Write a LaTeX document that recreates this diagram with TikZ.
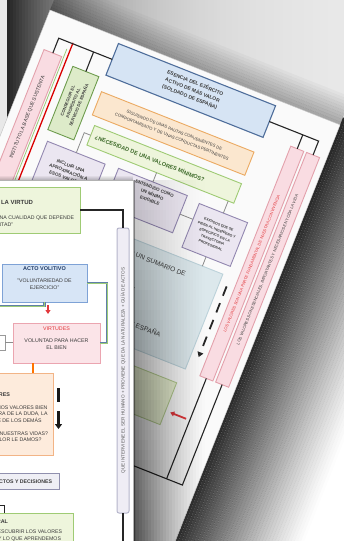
\documentclass[tikz,border=0pt]{standalone}
\usepackage{fontspec}
\setmainfont{Liberation Sans}
\usetikzlibrary{arrows.meta}
\definecolor{bluefill}{HTML}{D6E4F4}
\definecolor{blueline}{HTML}{4F6E9B}
\definecolor{orfill}{HTML}{FBE7CF}
\definecolor{orline}{HTML}{EBAA62}
\definecolor{grfill}{HTML}{EEF5DC}
\definecolor{grline}{HTML}{9FCB74}
\definecolor{grdark}{HTML}{3E6B2A}
\definecolor{gvfill}{HTML}{DDEBC9}
\definecolor{gvline}{HTML}{6E9C4E}
\definecolor{lavfill}{HTML}{EBE6F1}
\definecolor{lavline}{HTML}{9287B0}
\definecolor{pkfill}{HTML}{F9DCE2}
\definecolor{pkline}{HTML}{E3A1AC}
\definecolor{lbfill}{HTML}{DCE8EC}
\definecolor{lbline}{HTML}{BCD2DA}
\definecolor{lgfill}{HTML}{E9F1D2}
\definecolor{lgline}{HTML}{B6CD92}
\definecolor{txt}{HTML}{3A3A3A}
\definecolor{avfill}{HTML}{D7E5F6}
\definecolor{avline}{HTML}{7EA2D6}
\definecolor{avtxt}{HTML}{1F3A66}
\definecolor{vfill}{HTML}{FBE4E8}
\definecolor{vline}{HTML}{EBA5B0}
\definecolor{vred}{HTML}{E2383C}
\definecolor{valfill}{HTML}{FDEBDC}
\definecolor{valline}{HTML}{F2B486}
\definecolor{decfill}{HTML}{EFEFF5}
\definecolor{decline}{HTML}{9090AE}
\definecolor{stfill}{HTML}{EFEDF5}
\definecolor{stline}{HTML}{B5B5CB}
\definecolor{connblue}{HTML}{5F7FA8}
\definecolor{conng}{HTML}{9CCB78}
\newcommand\fz[2]{\fontsize{#1pt}{#2pt}\selectfont}
\begin{document}
\begin{tikzpicture}[x=1pt,y=-1pt,
  every node/.style={inner sep=0pt,outer sep=0pt},
  bx/.style={anchor=north west, line width=0.9pt},
  frame/.style={draw=black!85, line width=1.1pt},
  thinc/.style={draw=black!45, line width=0.8pt},
  btxt/.style={text=txt, align=center},
  conn/.style={draw=connblue, line width=0.7pt, double=conng, double distance=0.7pt},
  dasharr/.style={draw=black!85, line width=1.8pt, dash pattern=on 10pt off 8pt, -{Triangle[length=5pt,width=6pt]}},
  dasharrb/.style={draw=black!90, line width=2.2pt, dash pattern=on 14pt off 9pt, -{Triangle[length=5pt,width=7pt]}},
  redarr/.style={draw=vred, line width=1.8pt, -{Triangle[length=4pt,width=5pt]}},
]
\useasboundingbox (0,0) rectangle (344,541);
\clip (0,0) rectangle (344,541);

% ---------- background ----------
\foreach \i in {0,...,112}{
  \pgfmathsetmacro\xa{7+3*\i}
  \pgfmathsetmacro\p{78*exp(-(\xa-7)/90)+7}
  \fill[black!\p] (\xa,0) rectangle ({\xa+3.6},541);
}
\fill[black!9] (0,0) rectangle (7,541);

% ---------- back sheet ----------
\begin{scope}[shift={(50,10)}, rotate=-21.6, transform shape]
  \coordinate (sTL) at (0,0);
  \coordinate (sTR) at (312,0);
  \coordinate (sBR) at (312,470);
  \coordinate (sBL) at (0,470);
  % fade to white right of the sheet
  \foreach \j in {0,...,24}{
    \pgfmathsetmacro\vv{20+5*\j}
    \pgfmathsetmacro\oo{(\j+1)/25}
    \fill[white,opacity=\oo] (312,\vv) rectangle (640,{\vv+5});
  }
  \fill[white] (312,145) rectangle (640,900);
  % shadow right of the sheet
  \foreach \j in {0,...,39}{
    \pgfmathsetmacro\uu{312+3*\j}
    \pgfmathsetmacro\oo{0.82*(1-\j/40)^1.2}
    \fill[black,opacity=\oo] (\uu,-8) rectangle ({\uu+3},900);
  }
  % shadow above the sheet
  \foreach \j in {0,...,9}{
    \pgfmathsetmacro\vv{-3*(\j+1)}
    \pgfmathsetmacro\oo{0.28*(1-\j/10)}
    \fill[black,opacity=\oo] (0,\vv) rectangle (312,{\vv+3});
  }
  % sheet
  \fill[black!2] (0,0) rectangle (312,470);
  \draw[black!25,line width=0.4pt] (0,0) rectangle (312,470);

  % boxes
  \node[bx, fill=pkfill, draw=pkline, minimum width=19pt, minimum height=440pt] (pkL) at (9,39) {};
  \node[rotate=90, text=txt, font=\fz{5}{6}] (pkLt) at (18.5,108) {INSTITUTO LA BASE QUE SUSTENTA};
  \node[bx, fill=bluefill, draw=blueline, line width=1.1pt, minimum width=169pt, minimum height=34pt] (blue) at (76,6) {};
  \node[btxt, font=\fz{5}{7.5}\bfseries] (bluet) at (162,22) {ESENCIA DEL EJÉRCITO\\ACTIVO DE MÁS VALOR\\(SOLDADO DE ESPAÑA)};
  \node[bx, fill=orfill, draw=orline, minimum width=164pt, minimum height=25pt] (org) at (78,57) {};
  \node[btxt, font=\fz{4.2}{7}] (orgt) at (org.center) {SIGUIENDO DE UNAS PAUTAS CONVENIENTES DE\\COMPORTAMIENTO Y DE UNAS CONDUCTAS PERTINENTES};
  \node[bx, fill=grfill, draw=grline, minimum width=158pt, minimum height=21pt] (nec) at (84,91) {};
  \node[anchor=west, text=grdark, font=\fz{5.6}{6}\bfseries] (nect) at (89,101.5) {¿NECESIDAD DE UNA VALORES MÍNIMOS?};
  \node[bx, fill=gvfill, draw=gvline, minimum width=28pt, minimum height=68pt] (gV) at (42,44) {};
  \node[rotate=90, btxt, font=\fz{4.2}{6}\bfseries] (gVt) at (gV.center) {CONSEGUIR EL\\PROPÓSITO AL\\SERVICIO DE ESPAÑA};
  \node[bx, fill=lavfill, draw=lavline, minimum width=62pt, minimum height=42pt] (incl) at (46,123) {};
  \node[btxt, font=\fz{4.6}{6.5}\bfseries] (inclt) at (incl.center) {INCLUIR UNA\\APROXIMACIÓN A\\ESOS VALORES};
  \node[bx, fill=lavfill, draw=lavline, minimum width=74pt, minimum height=40pt] (ent) at (122,122) {};
  \node[anchor=north, btxt, font=\fz{4.4}{6.5}\bfseries] (entt) at (163,126) {ENTENDIDO COMO\\UN MÍNIMO\\EXIGIBLE};
  \node[bx, fill=lavfill, draw=lavline, minimum width=52pt, minimum height=47pt] (exig) at (210,125) {};
  \node[btxt, font=\fz{3.5}{5.6}\bfseries] (exigt) at (exig.center) {EXIGIDOS QUE SE\\PIDEN AL INGENIERO Y\\ESPECÍFICO EN LA\\TRAYECTORIA\\PROFESIONAL};
  \node[bx, fill=lbfill, draw=lbline, minimum width=153pt, minimum height=102pt] (lb) at (105,182) {};
  \node[anchor=west, text=txt, font=\fz{6.6}{7}] (lbt1) at (136,196) {REALIZAR UN SUMARIO DE};
  \node[anchor=west, text=txt, font=\fz{6.6}{7}] (lbt2) at (136,229) {LOS VALORES};
  \node[anchor=west, text=txt, font=\fz{6.6}{7}] (lbt3) at (136,261) {DEL EJÉRCITO DE ESPAÑA};
  \node[bx, fill=lgfill, draw=lgline, minimum width=127pt, minimum height=45pt] (lg) at (128,300) {};
  \node[bx, fill=pkfill, draw=pkline, minimum width=14pt, minimum height=247pt] (pkR1) at (274,38) {};
  \node[rotate=90, text=vred, font=\fz{4}{5}] (pkR1t) at (pkR1.center) {LOS VALORES SON UNA PARTE FUNDAMENTAL DE NUESTRA CONVIVENCIA};
  \node[bx, fill=pkfill, draw=pkline, minimum width=14pt, minimum height=247pt] (pkR2) at (291,38) {};
  \node[rotate=90, text=txt, font=\fz{4}{5}] (pkR2t) at (pkR2.center) {LOS VALORES SON ESENCIALES, IMPORTANTES Y NECESARIOS EN TODA LA VIDA};

  % lines
  \coordinate (gl1) at (30,30); \coordinate (gl2) at (30,480);
  \draw[draw=conng, line width=0.8pt] (gl1) -- (gl2);
  \coordinate (rl1) at (33.5,22); \coordinate (rl2) at (33.5,480);
  \draw[draw=red!85!black, line width=1.3pt] (rl1) -- (rl2);
  \draw[frame] (pkL.north) |- (blue.west);
  \draw[frame] (gV.north) -- (gV.north |- blue.west);
  \draw[frame] (blue.east) -| (pkR2.north);
  \draw[frame] (pkR1.north) -- (pkR1.north |- blue.east);
  \draw[thinc] (nec.west) -| (incl.north);
  \draw[thinc] (ent.north) -- (ent.north |- nec.south);
  \draw[thinc] (exig.north) -- (exig.north |- nec.south);
  \draw[thinc] (ent.east) -- (ent.east -| exig.west);
  \draw[thinc] (exig.south) -- (exig.south |- lb.north);
  \coordinate (da1) at (266,192); \coordinate (da2) at (266,268);
  \draw[dasharr] (da1) -- (da2);
  \coordinate (ra) at (277,330);
  \draw[redarr, shorten >=5pt] (ra) -- (ra -| lg.east);
  \coordinate (fb1) at (281,393); \coordinate (fb2) at (298,393); \coordinate (fbL) at (150,393);
  \draw[frame] (pkR1.south) -- (fb1);
  \draw[frame] (pkR2.south) -- (fb2) -- (fbL);
\end{scope}

% ---------- shadow cast by the front sheet ----------
\begin{scope}
  \clip (sTL) -- (sTR) -- (sBR) -- (sBL) -- cycle;
  \foreach \r in {0,...,36}{
    \foreach \c in {0,...,23}{
      \pgfmathsetmacro\yy{180+10*\r}
      \pgfmathsetmacro\xx{133+3*\c}
      \pgfmathsetmacro\oo{(0.14+0.56*\r/36)*(1-\c/24)^1.3}
      \fill[black,opacity=\oo] (\xx,\yy) rectangle ({\xx+3},{\yy+10});
    }
  }
  \fill[black,opacity=0.35] (133,180) rectangle (135,560);
  \foreach \j in {0,...,3}{
    \pgfmathsetmacro\yy{176+\j}
    \pgfmathsetmacro\oo{0.05*(\j+1)}
    \fill[black,opacity=\oo] (-5,\yy) rectangle (133,{\yy+1});
  }
\end{scope}

% ---------- front sheet ----------
\fill[white] (-5,180) rectangle (133,560);
\draw[black!30, line width=0.6pt] (-5,180) -- (133,180) -- (133,560);

\node[bx, fill=grfill, draw=grline, line width=1pt, minimum width=100pt, minimum height=46pt] (fV) at (-20,187) {};
\node[anchor=base east, text=txt, font=\fz{6}{6}\bfseries] (fVt1) at (33,204) {LA VIRTUD};
\node[anchor=base east, text=txt, font=\fz{5.2}{6}] (fVt2) at (74,219) {"ES UNA CUALIDAD QUE DEPENDE};
\node[anchor=base east, text=txt, font=\fz{5.2}{6}] (fVt3) at (13,226.5) {DE LA VOLUNTAD"};

\node[bx, fill=stfill, draw=stline, line width=1pt, rounded corners=2pt, minimum width=12pt, minimum height=285pt] (fst) at (117,228) {};
\node[rotate=90, text=black!65, font=\fz{4.6}{5}] (fstt) at (fst.center) {QUE INTERVIENE EL SER HUMANO + PROVIENE QUE DA LA NATURALEZA + GUÍA DE ACTOS};

\node[bx, fill=avfill, draw=avline, line width=1pt, minimum width=85pt, minimum height=38pt] (acto) at (2,264) {};
\node[anchor=north, text=avtxt, font=\fz{5.5}{6}\bfseries] (actot) at (44.5,267) {ACTO VOLITIVO};
\node[anchor=north, btxt, font=\fz{5.2}{6.6}] (actod) at (44.5,279) {"VOLUNTARIEDAD DE\\EJERCICIO"};

\node[bx, fill=vfill, draw=vline, line width=1pt, minimum width=87pt, minimum height=40pt] (virt) at (13,323) {};
\node[anchor=north, text=vred, font=\fz{5.3}{6}] (virtt) at (56.5,327) {VIRTUDES};
\node[anchor=north, btxt, font=\fz{5.3}{6.8}] (virtd) at (56.5,339) {VOLUNTAD PARA HACER\\EL BIEN};
\node[bx, fill=white, draw=black!40, line width=0.8pt, minimum width=14pt, minimum height=15pt] (lsm) at (-9,335) {};

\node[bx, fill=valfill, draw=valline, line width=1pt, minimum width=73pt, minimum height=82pt] (val) at (-20,373) {};
\node[anchor=base east, text=txt, font=\fz{5.4}{6}\bfseries] (valt0) at (10,396) {VALORES};
\node[anchor=base east, text=txt, font=\fz{5.2}{6}] (valt1) at (47.5,409) {SON UNOS VALORES BIEN};
\node[anchor=base east, text=txt, font=\fz{5.2}{6}] (valt2) at (47.5,415.5) {ESTABLECIDOS FUERA DE LA DUDA, LA};
\node[anchor=base east, text=txt, font=\fz{5.2}{6}] (valt3) at (41.5,422) {BASE DE LOS DEMÁS};
\node[anchor=base east, text=txt, font=\fz{5.2}{6}] (valt4) at (48,435) {¿QUÉ VALOR TIENEN NUESTRAS VIDAS?};
\node[anchor=base east, text=txt, font=\fz{5.2}{6}] (valt5) at (41.5,441.5) {¿QUÉ VALOR LE DAMOS?};

\node[bx, fill=decfill, draw=decline, line width=1pt, minimum width=79pt, minimum height=16pt] (dec) at (-20,473) {};
\node[anchor=base east, text=txt, font=\fz{5.2}{6}\bfseries] (dect) at (52,483) {ACTOS Y DECISIONES};

\node[bx, fill=grfill, draw=grline, line width=1pt, minimum width=93pt, minimum height=50pt] (gB) at (-20,513) {};
\node[anchor=base east, text=txt, font=\fz{5.4}{6}\bfseries] (gBt0) at (8,523) {MORAL};
\node[anchor=base east, text=txt, font=\fz{5.2}{6}] (gBt1) at (62,533.5) {DESCUBRIR LOS VALORES};
\node[anchor=base east, text=txt, font=\fz{5.2}{6}] (gBt2) at (61,540) {Y LO QUE APRENDEMOS};

% front connectors
\draw[frame] (fV.east) -| (fst.north);
\coordinate (fend) at (123,545);
\draw[frame] (fst.south) -- (fend);
\draw[conn] (acto.east) -- ++(20,0) |- (virt.east);
\coordinate (lc) at (-5,306);
\draw[conn] (lc) -| (acto.south);
\coordinate (rax) at (48,0);
\draw[redarr, shorten <=3pt, shorten >=9pt] (acto.south -| rax) -- (virt.north -| rax);
\draw[thinc] (lsm.east) -- (lsm.east -| virt.west);
\coordinate (ocx) at (33,0);
\draw[draw=orange!90!red, line width=1.4pt] (virt.south -| ocx) -- (val.north -| ocx);
\coordinate (da3) at (58.5,388); \coordinate (da4) at (58.5,429);
\draw[dasharrb] (da3) -- (da4);
\coordinate (sl1) at (-3,505); \coordinate (sl2) at (4,505);
\draw[frame, line width=0.8pt] (sl1) -- (sl2) -- (sl2 |- gB.north);
\end{tikzpicture}
\end{document}
